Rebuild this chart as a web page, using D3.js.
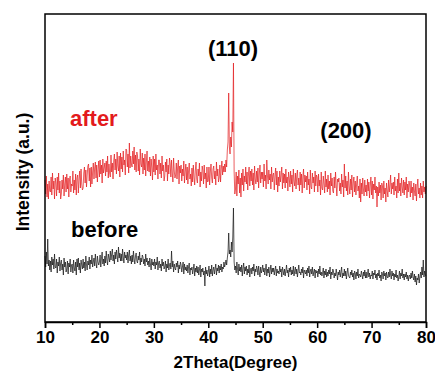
<!DOCTYPE html>
<html><head><meta charset="utf-8">
<script src="https://cdn.jsdelivr.net/npm/d3@7"></script>
<style>html,body{margin:0;padding:0;background:#fff;}svg{display:block;}text{font-family:"Liberation Sans",Arial,sans-serif;font-weight:bold;}</style>
</head><body>
<svg id="c" width="435" height="374"></svg>
<script>
// 2Theta sampling grid: 10 to 80 degrees, step 0.125
const twoThetaStart = 10, twoThetaStep = 0.125;
const xTicks = [10, 20, 30, 40, 50, 60, 70, 80];
const xMinorTicks = [15, 25, 35, 45, 55, 65, 75];
const seriesNames = ["after", "before"];
const peakLabels = ["(110)", "(200)"];

// intensity (a.u.), 8 samples per degree
const afterIntensity = [
142,128,146,125,138,123,141,131, 130,145,127,149,133,141,123,144, 139,126,145,132,149,129,141,123,
128,142,133,147,126,138,145,130, 148,133,144,125,142,146,130,138, 136,151,129,142,132,148,127,144,
147,129,143,151,134,153,138,132, 134,149,155,139,152,135,147,156, 158,141,154,135,155,138,150,159,
143,154,160,144,157,140,152,161, 145,162,148,157,139,163,149,154, 159,146,161,150,166,144,158,149,
145,167,150,159,143,161,168,152, 163,148,170,156,151,166,145,169, 153,165,150,171,157,162,147,173,
172,155,168,149,179,154,166,158, 155,171,158,175,152,167,150,170, 166,151,163,147,173,158,155,169,
148,164,152,168,146,160,171,151, 161,150,165,146,163,154,142,166, 150,163,147,168,152,157,143,162,
162,148,159,144,166,151,157,141, 146,160,150,163,141,157,148,164, 158,145,162,149,140,164,151,144,
147,159,143,155,162,138,156,149, 157,141,153,146,161,139,150,158, 142,155,138,151,159,143,148,136,
154,140,157,145,137,152,160,143, 139,153,146,159,135,150,141,156, 152,138,157,143,149,134,155,140,
141,155,137,150,158,144,139,153, 156,143,151,137,160,146,153,140, 144,157,140,153,161,147,156,150,
158,150,162,155,172,180,229,175, 168,185,175,200,190,259,150,128,
133,150,126,146,138,152,129,144, 125,149,137,153,131,146,140,155, 138,150,132,147,155,136,151,141,
153,137,149,132,156,143,138,151, 140,154,134,148,157,139,150,143, 150,135,158,141,147,133,162,146,
138,152,142,148,133,155,140,147, 149,132,146,154,137,151,130,145, 136,151,140,147,155,133,149,139,
148,134,153,139,145,131,150,144, 135,151,138,147,130,153,141,136, 149,133,146,152,137,144,131,150,
137,148,129,145,153,134,147,140, 146,132,150,137,143,128,152,135, 133,149,139,145,130,151,136,147,
145,130,148,136,142,127,150,134, 132,146,138,129,151,135,143,130, 147,133,141,127,149,136,144,131,
129,145,134,150,137,126,143,140, 144,131,139,128,148,135,142,125, 158,134,146,131,141,127,150,136,
128,143,132,147,125,139,145,130, 141,127,138,146,131,136,124,143, 120,139,128,144,133,126,142,130,
137,126,143,131,140,124,136,145, 127,141,123,138,132,145,129,136, 115,135,126,140,129,137,122,139,
136,124,141,128,134,120,139,131, 125,142,130,137,147,128,139,133, 140,127,145,131,136,124,143,129,
149,131,139,126,144,135,129,142, 127,140,132,145,124,138,130,141, 137,125,141,129,135,122,139,131,
126,138,121,135,143,128,134,124, 139,127,136,124,141,130,135,128,
136
];
const beforeIntensity = [
66,55,70,58,83,56,62,52, 61,50,65,57,63,53,68,55, 54,63,49,60,56,65,51,59,
62,52,58,47,64,55,60,50, 53,61,48,59,55,63,50,57, 58,49,62,54,51,60,47,63,
55,64,52,59,49,62,57,53, 63,54,60,51,66,57,52,61, 57,65,53,62,58,67,55,60,
64,56,68,59,54,66,60,57, 60,67,55,64,70,58,63,56, 66,59,71,62,57,68,64,60,
71,62,68,73,61,67,58,70, 63,72,66,60,75,64,69,61, 68,61,73,65,59,70,64,67,
62,70,59,67,72,61,66,58, 67,60,71,63,58,66,69,61, 59,66,62,70,57,64,60,67,
65,58,63,56,68,60,64,57, 61,55,64,58,52,63,57,60, 56,63,53,60,57,65,52,59,
61,54,58,51,63,56,60,53, 55,61,50,58,54,63,52,57, 59,53,71,55,61,50,58,54,
52,59,55,61,49,57,53,60, 57,50,55,60,48,58,52,55, 51,57,49,55,59,47,54,52,
55,48,53,58,46,54,50,56, 49,55,47,52,57,45,53,50, 54,47,51,36,55,48,52,46,
50,56,45,53,48,57,46,52, 55,48,53,58,47,54,51,57, 49,56,52,58,50,55,53,60,
55,58,62,57,64,70,89,68, 72,65,80,70,85,114,60,52,
56,49,60,53,47,58,51,55, 50,57,46,54,59,48,55,51, 56,47,53,49,57,45,52,54,
48,55,51,58,46,53,50,56, 53,47,56,50,45,55,49,52, 57,50,54,47,52,58,46,53,
49,55,45,52,57,48,54,50, 54,47,52,56,46,53,49,51, 48,56,50,53,45,55,51,47,
53,46,51,57,49,52,45,54, 50,55,47,52,48,56,46,51, 55,48,53,45,51,57,49,50,
47,53,49,55,44,52,50,48, 52,46,54,49,56,45,51,53, 48,55,46,50,53,44,52,49,
51,45,53,48,56,47,50,46, 49,54,44,51,47,53,45,50, 46,52,48,55,43,50,47,53,
51,44,49,46,53,48,42,50, 47,52,45,50,55,44,49,46, 53,46,51,43,49,54,47,45,
44,50,47,52,45,49,42,51, 49,43,50,46,53,44,48,47, 45,51,47,43,50,46,52,44,
50,44,48,53,45,49,43,47, 46,51,43,49,47,52,44,48, 42,49,46,52,44,47,41,50,
48,43,51,46,49,42,50,45, 44,50,45,53,47,43,51,46, 49,42,48,45,52,44,47,41,
45,51,43,49,46,53,44,48, 42,48,45,50,43,47,41,46, 47,43,49,44,51,45,42,48,
40,46,37,44,42,48,39,45, 50,44,55,47,62,45,51,47,
46
];

const svg = d3.select("#c");
const L = 45, R = 426, T = 14, B = 322;
const x = d3.scaleLinear().domain([10, 80]).range([L, R]);
const y = d3.scaleLinear().domain([0, 308]).range([B, T]);

const line = d3.line()
  .x((d, i) => x(twoThetaStart + i * twoThetaStep))
  .y(d => y(d));

svg.append("path").datum(afterIntensity)
  .attr("d", line).attr("fill", "none").attr("stroke", "#e31a1c").attr("stroke-width", 0.7);
svg.append("path").datum(beforeIntensity)
  .attr("d", line).attr("fill", "none").attr("stroke", "#111").attr("stroke-width", 0.7);

// frame
svg.append("rect").attr("x", L).attr("y", T).attr("width", R - L).attr("height", B - T)
  .attr("fill", "none").attr("stroke", "#000").attr("stroke-width", 1.5);

// x axis
const ax = svg.append("g").attr("transform", `translate(0,${B})`)
  .call(d3.axisBottom(x).tickValues(xTicks).tickFormat(d3.format("d")).tickSize(6).tickPadding(3));
ax.select(".domain").attr("stroke-width", 1.5);
ax.selectAll(".tick line").attr("stroke-width", 1.5);
ax.selectAll("text").attr("font-size", 17).attr("fill", "#000")
  .style("font-family", "'Liberation Sans',Arial,sans-serif").style("font-weight", "bold");
svg.append("g").attr("transform", `translate(0,${B})`)
  .call(d3.axisBottom(x).tickValues(xMinorTicks).tickFormat("").tickSize(3))
  .call(g => g.select(".domain").remove())
  .selectAll(".tick line").attr("stroke-width", 1.5);

svg.append("text").attr("x", (L + R) / 2).attr("y", 368).attr("text-anchor", "middle")
  .attr("font-size", 17).text("2Theta(Degree)");
svg.append("text").attr("transform", "translate(29,172) rotate(-90)").attr("text-anchor", "middle")
  .attr("font-size", 17.5).text("Intensity (a.u.)");

// annotations
svg.append("text").attr("x", 70).attr("y", 126).attr("font-size", 22).attr("fill", "#e31a1c").text(seriesNames[0]);
svg.append("text").attr("x", 71).attr("y", 237).attr("font-size", 22).attr("fill", "#000").text(seriesNames[1]);
svg.append("text").attr("x", 233).attr("y", 56).attr("text-anchor", "middle").attr("font-size", 22).text(peakLabels[0]);
svg.append("text").attr("x", 346).attr("y", 138).attr("text-anchor", "middle").attr("font-size", 22).text(peakLabels[1]);
</script>
</body></html>
